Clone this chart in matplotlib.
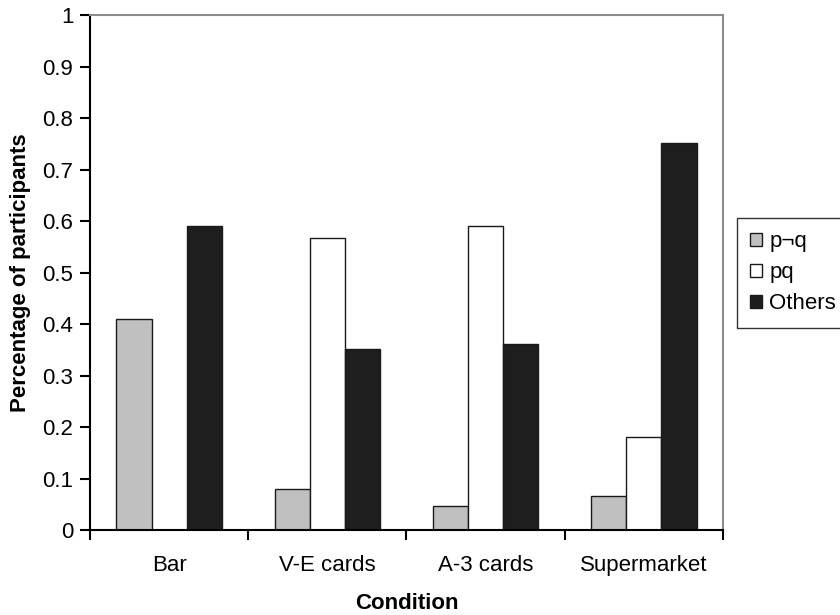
import numpy as np
import matplotlib
matplotlib.use("Agg")
import matplotlib.pyplot as plt

plt.rcParams["font.family"] = ["Liberation Sans", "DejaVu Sans"]

# Data
conditions = ["Bar", "V-E cards", "A-3 cards", "Supermarket"]
series_names = ["p\u00acq", "pq", "Others"]
p_not_q = [0.41, 0.08, 0.047, 0.067]
pq = [0.0, 0.567, 0.59, 0.18]
others = [0.59, 0.352, 0.362, 0.752]
y_ticks = [0, 0.1, 0.2, 0.3, 0.4, 0.5, 0.6, 0.7, 0.8, 0.9, 1]
y_tick_labels = ["0", "0.1", "0.2", "0.3", "0.4", "0.5", "0.6", "0.7", "0.8", "0.9", "1"]

colors = ["#c0c0c0", "#ffffff", "#1e1e1e"]
FS = 16

fig = plt.figure(figsize=(8.4, 6.15), dpi=100)
ax = fig.add_axes([0.1071, 0.1382, 0.7536, 0.8374])

x = np.arange(len(conditions))
width = 1 / 4.5
for i, (vals, name, col) in enumerate(zip([p_not_q, pq, others], series_names, colors)):
    ax.bar(x + (i - 1) * width, vals, width, color=col, edgecolor="#1a1a1a",
           linewidth=1.0, label=name)

ax.set_xlim(-0.5, len(conditions) - 0.5)
ax.set_ylim(0, 1)
ax.set_yticks(y_ticks)
ax.set_yticklabels(y_tick_labels, fontsize=FS)

# tick marks at category boundaries, labels at centres
ax.set_xticks(np.arange(-0.5, len(conditions), 1.0))
ax.set_xticklabels([])
ax.set_xticks(x, minor=True)
ax.set_xticklabels(conditions, minor=True, fontsize=FS)
ax.tick_params(axis="x", which="minor", length=0, pad=18)
ax.tick_params(axis="both", which="major", direction="out", length=7, width=1.5, color="black")
ax.tick_params(axis="y", which="major", pad=5)

for side in ["left", "bottom"]:
    ax.spines[side].set_color("black")
    ax.spines[side].set_linewidth(1.5)
for side in ["top", "right"]:
    ax.spines[side].set_color("#8c8c8c")
    ax.spines[side].set_linewidth(1.5)

ax.set_xlabel("Condition", fontsize=FS, fontweight="bold", labelpad=12)
ax.set_ylabel("Percentage of participants", fontsize=FS, fontweight="bold", labelpad=8)

leg = ax.legend(loc="upper left", bbox_to_anchor=(1.022, 0.606), fontsize=FS,
                frameon=True, fancybox=False, handlelength=0.55, handleheight=0.55,
                handletextpad=0.3, borderpad=0.6, labelspacing=0.45,
                borderaxespad=0)
leg.get_frame().set_edgecolor("black")
leg.get_frame().set_linewidth(1.0)

fig.savefig("out.png", dpi=100)
